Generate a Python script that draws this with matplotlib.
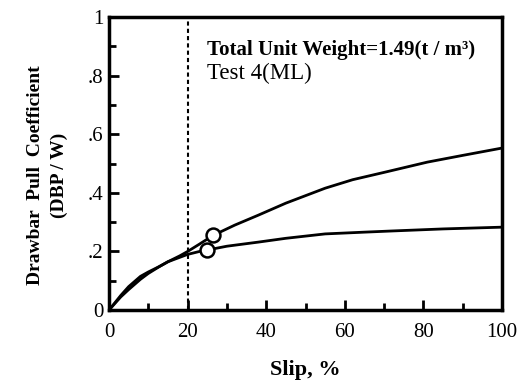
import matplotlib
matplotlib.use("Agg")
import matplotlib.pyplot as plt
from matplotlib.ticker import MultipleLocator, FixedLocator

# Data
slip_upper = [0, 3, 5, 8, 10, 13, 15, 18, 20, 23, 26.5, 32, 38, 45, 55, 62, 70, 81, 90, 100]
dbp_upper = [0, 0.045, 0.07, 0.105, 0.125, 0.15, 0.165, 0.185, 0.2, 0.225, 0.255, 0.29, 0.324, 0.365, 0.416, 0.445, 0.47, 0.505, 0.528, 0.553]
slip_lower = [0, 3, 5, 8, 10, 13, 15, 18, 20, 23, 25, 30, 38, 45, 55, 65, 72, 85, 100]
dbp_lower = [0, 0.05, 0.08, 0.115, 0.13, 0.15, 0.165, 0.18, 0.19, 0.2, 0.205, 0.218, 0.232, 0.245, 0.26, 0.266, 0.27, 0.277, 0.283]
marker_slip = [26.5, 25]
marker_dbp = [0.255, 0.205]
critical_slip = 20

x_ticks = [0, 20, 40, 60, 80, 100]
x_ticklabels = ["0", "20", "40", "60", "80", "100"]
y_ticks = [0, 0.2, 0.4, 0.6, 0.8, 1.0]
y_ticklabels = ["0", ".2", ".4", ".6", ".8", "1"]

plt.rcParams['font.family'] = ['Liberation Serif', 'DejaVu Serif']

fig = plt.figure(figsize=(5.2, 3.8), dpi=100)
ax = fig.add_axes([0.2096, 0.184, 0.7558, 0.771])

ax.plot(slip_upper, dbp_upper, color='black', lw=2.0, zorder=3)
ax.plot(slip_lower, dbp_lower, color='black', lw=2.0, zorder=3)
ax.plot(marker_slip, marker_dbp, linestyle='none', marker='o', ms=10,
        mfc='white', mec='black', mew=1.8, zorder=4)
ax.axvline(critical_slip, color='black', lw=1.5, linestyle=(0, (2, 1.5)), zorder=2)

ax.set_xlim(0, 100)
ax.set_ylim(0, 1)
ax.xaxis.set_major_locator(FixedLocator(x_ticks))
ax.set_xticklabels(x_ticklabels)
ax.yaxis.set_major_locator(FixedLocator(y_ticks))
ax.set_yticklabels(y_ticklabels)
ax.xaxis.set_minor_locator(MultipleLocator(10))
ax.yaxis.set_minor_locator(MultipleLocator(0.1))
ax.tick_params(which='major', direction='in', length=7, width=2, labelsize=15, pad=9)
ax.tick_params(which='minor', direction='in', length=5, width=2)
ax.tick_params(axis='y', which='major', pad=4)
for s in ax.spines.values():
    s.set_linewidth(2.5)

ax.set_xlabel("Slip, %", fontsize=16, fontweight='bold', labelpad=13)
ax.set_ylabel("Drawbar  Pull  Coefficient\n(DBP / W)", fontsize=14, fontweight='bold',
              labelpad=14, linespacing=1.5)
ax.yaxis.label.set_y(0.46)

ax.text(0.249, 0.887, "Total Unit Weight=1.49(t / m³)", transform=ax.transAxes,
        fontsize=15, fontweight='bold', va='center', ha='left')
ax.text(0.249, 0.809, "Test 4(ML)", transform=ax.transAxes,
        fontsize=16.5, va='center', ha='left')

fig.savefig("out.png", dpi=100)
